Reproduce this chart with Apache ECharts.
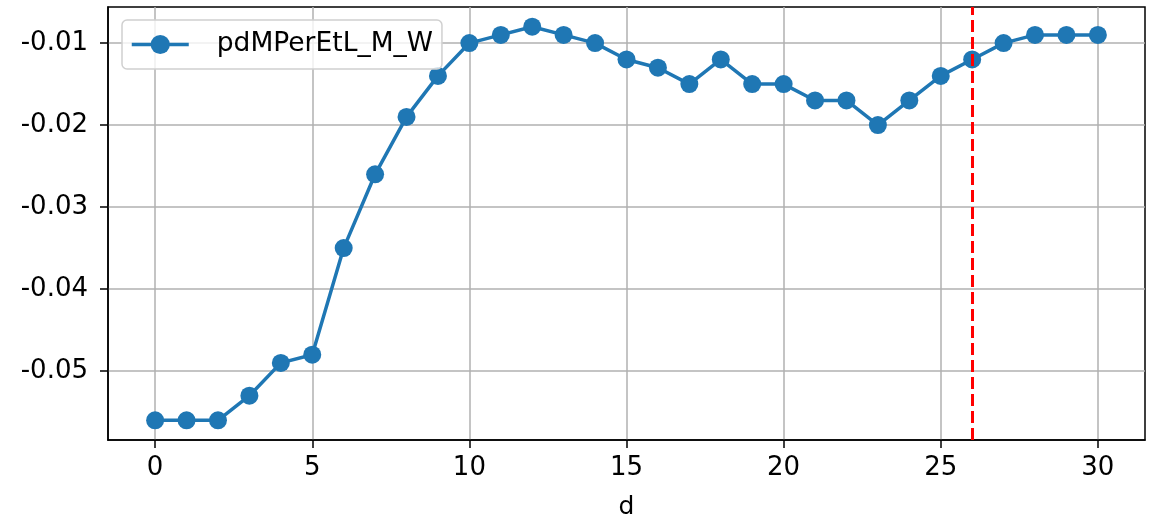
<!DOCTYPE html>
<html>
<head>
<meta charset="utf-8">
<script src="https://cdn.jsdelivr.net/npm/echarts@6/dist/echarts.min.js"></script>
<style>html,body{margin:0;padding:0;background:#fff;}#c{width:1155px;height:518px;}</style>
</head>
<body>
<div id="c"></div>
<script>
const days = [0,1,2,3,4,5,6,7,8,9,10,11,12,13,14,15,16,17,18,19,20,21,22,23,24,25,26,27,28,29,30];
const values = [-0.056,-0.056,-0.056,-0.053,-0.049,-0.048,-0.035,-0.026,-0.019,-0.014,-0.010,-0.009,-0.008,-0.009,-0.010,-0.012,-0.013,-0.015,-0.012,-0.015,-0.015,-0.017,-0.017,-0.020,-0.017,-0.014,-0.012,-0.010,-0.009,-0.009,-0.009];
const xTicks = [0,5,10,15,20,25,30];
const yTicks = [-0.05,-0.04,-0.03,-0.02,-0.01];
const markerDay = 26;
const seriesName = 'pdMPerEtL_M_W';

const chart = echarts.init(document.getElementById('c'));
const font = 'DejaVu Sans';
chart.setOption({
  animation: false,
  backgroundColor: '#fff',
  grid: {left: 108, right: 10, top: 7, bottom: 78, outerBoundsMode: 'none', containLabel: false,
    show: true, borderColor: '#000', borderWidth: 1.5, backgroundColor: 'transparent'},
  legend: {
    left: 122, top: 20, padding: [11, 9, 11, 8],
    backgroundColor: 'rgba(255,255,255,0.8)', borderColor: '#d0d0d0', borderWidth: 1.5, borderRadius: 5,
    itemWidth: 57, itemHeight: 24,
    lineStyle: {width: 3.5},
    textStyle: {fontFamily: font, fontSize: 26.5, color: '#000', padding: [0,0,0,23]},
    data: [{name: seriesName}]
  },
  xAxis: {
    type: 'value', min: -1.5, max: 31.5,
    name: 'd', nameLocation: 'middle', nameGap: 55,
    nameTextStyle: {fontFamily: font, fontSize: 25, color: '#000'},
    axisLine: {show: true, onZero: false, lineStyle: {color: '#000', width: 1.5}},
    axisTick: {show: true, length: 8, customValues: xTicks, lineStyle: {color: '#000', width: 1.5}},
    axisLabel: {customValues: xTicks, fontFamily: font, fontSize: 26, color: '#000', margin: 15},
    splitLine: {show: true, lineStyle: {color: '#b0b0b0', width: 1.5}}
  },
  yAxis: {
    type: 'value', min: -0.0584, max: -0.0056,
    axisLine: {show: true, onZero: false, lineStyle: {color: '#000', width: 1.5}},
    axisTick: {show: true, length: 8, customValues: yTicks, lineStyle: {color: '#000', width: 1.5}},
    axisLabel: {customValues: yTicks, fontFamily: font, fontSize: 26, color: '#000', margin: 20,
      formatter: v => v.toFixed(2)},
    splitLine: {show: true, lineStyle: {color: '#b0b0b0', width: 1.5}}
  },
  series: [{
    name: seriesName, type: 'line',
    data: days.map((d, i) => [d, values[i]]),
    symbol: 'circle', symbolSize: 18,
    lineStyle: {color: '#1f77b4', width: 3.5},
    itemStyle: {color: '#1f77b4'},
    markLine: {
      silent: true, symbol: 'none', label: {show: false},
      lineStyle: {color: '#ff0000', type: [12, 5], width: 3, opacity: 1},
      emphasis: {disabled: true},
      data: [{xAxis: markerDay}]
    }
  }]
});
</script>
</body>
</html>
